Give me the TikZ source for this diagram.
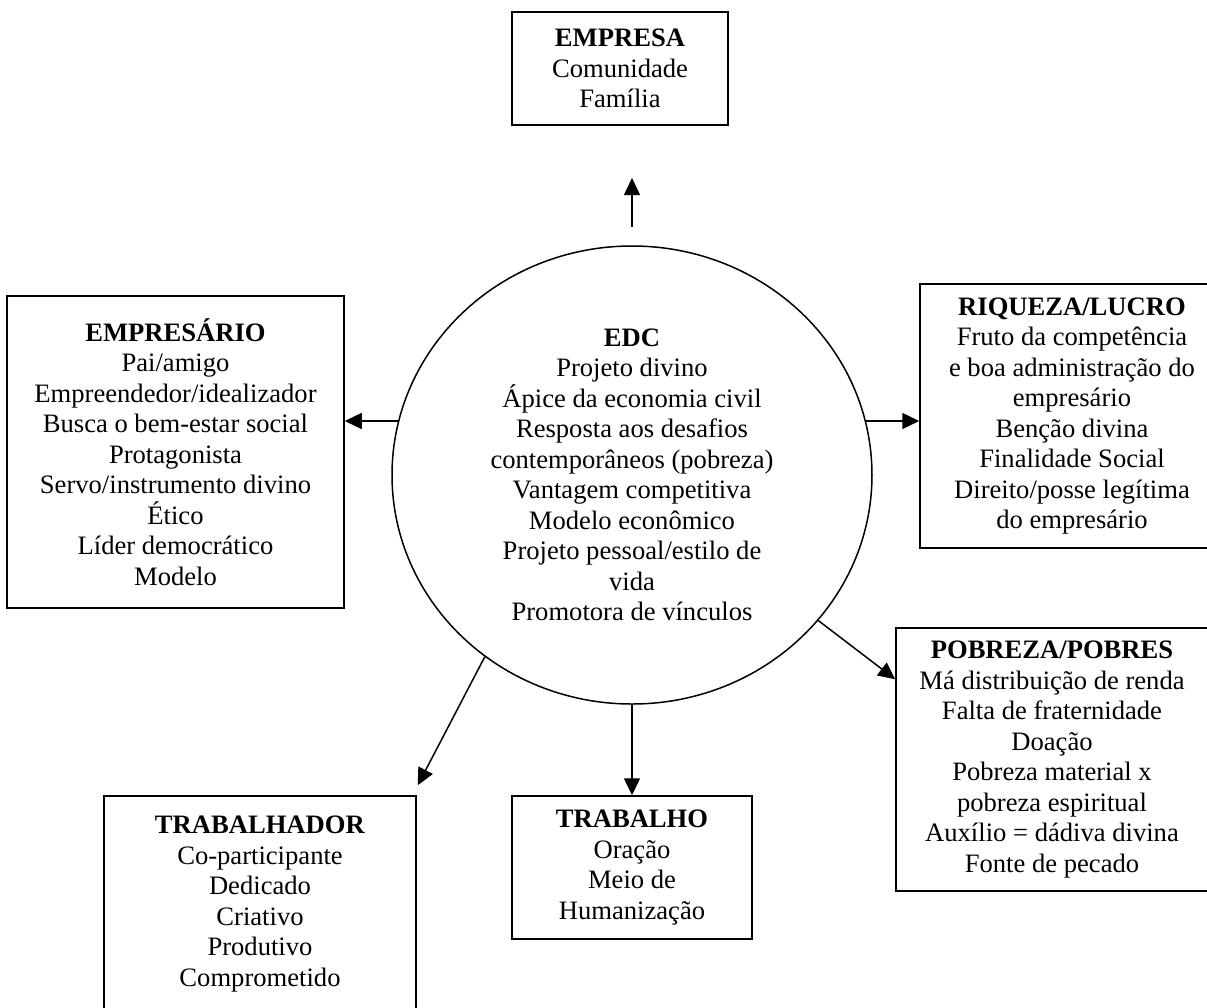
\documentclass[tikz,border=0pt]{standalone}
\usepackage{fontspec}
\setmainfont{Liberation Serif}
\usetikzlibrary{shapes.geometric,arrows.meta,calc}
\begin{document}
\begin{tikzpicture}[x=0.5pt,y=-0.5pt,
  every node/.style={font=\fontsize{13.3}{15.25}\selectfont},
  box/.style={draw,line width=0.75pt,rectangle,align=center,inner sep=0pt},
  hub/.style={draw,line width=0.75pt,ellipse,align=center,inner sep=0pt,
    minimum width=240pt,minimum height=229pt},
  arr/.style={line width=0.75pt,-{Triangle[length=8.5pt,width=8pt]}}]
\useasboundingbox (0,0) rectangle (1207,1008);

\node[box,minimum width=108pt,minimum height=56.5pt] (empresa) at (620,68.5)
  {\textbf{EMPRESA}\\Comunidade\\Família};
\node[box,minimum width=168.5pt,minimum height=156pt] (empresario) at (175.5,452)
  {\textbf{EMPRESÁRIO}\\Pai/amigo\\Empreendedor/idealizador\\Busca o bem-estar social\\Protagonista\\Servo/instrumento divino\\Ético\\Líder democrático\\Modelo};
\node[box,minimum width=152pt,minimum height=132pt] (riqueza) at (1072,416)
  {\textbf{RIQUEZA/LUCRO}\\Fruto da competência\\e boa administração do\\empresário\\Benção divina\\Finalidade Social\\Direito/posse legítima\\do empresário};
\node[box,minimum width=156pt,minimum height=131.5pt] (pobreza) at (1052,759.5)
  {\textbf{POBREZA/POBRES}\\Má distribuição de renda\\Falta de fraternidade\\Doação\\Pobreza material x\\pobreza espiritual\\Auxílio = dádiva divina\\Fonte de pecado};
\node[box,minimum width=156pt,minimum height=108pt] (trabalhador) at (260,904)
  {\textbf{TRABALHADOR}\\Co-participante\\Dedicado\\Criativo\\Produtivo\\Comprometido};
\node[box,minimum width=120pt,minimum height=71.5pt] (trabalho) at (632,867.5)
  {\textbf{TRABALHO}\\Oração\\Meio de\\Humanização};
\node[hub] (edc) at (632,475)
  {\textbf{EDC}\\Projeto divino\\Ápice da economia civil\\Resposta aos desafios\\contemporâneos (pobreza)\\Vantagem competitiva\\Modelo econômico\\Projeto pessoal/estilo de\\vida\\Promotora de vínculos};

\coordinate (topS) at (632,227);
\coordinate (topE) at (632,178);
\draw[arr] (topS) -- (topE);
\draw[arr] (edc.167) -- (empresario.east |- edc.167);
\draw[arr] (edc.13) -- (riqueza.west |- edc.13);
\draw[arr] (edc.-38) -- ($(pobreza.north west)+(0,52)$);
\draw[arr] (edc.-129) -- ($(trabalhador.north east)+(1,-10)$);
\draw[arr] (edc.south) -- (trabalho.north);
\end{tikzpicture}
\end{document}
